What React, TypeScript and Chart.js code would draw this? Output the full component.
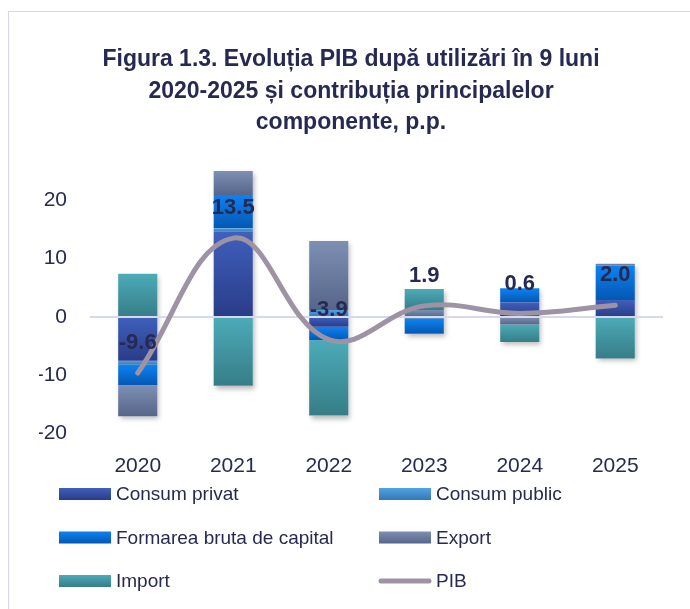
import React, { useEffect, useRef } from 'react';
import { Chart, registerables } from 'chart.js';

Chart.register(...registerables);

// ---- data ----
const categories = ['2020', '2021', '2022', '2023', '2024', '2025'];
const consumPrivat = [-7.5, 14.6, -1.7, 0, 2.5, 2.9];
const consumPublic = [-0.7, 0.6, 1.2, -0.3, 0, 0];
const formareaBruta = [-3.5, 5.7, -2.3, -2.6, 2.4, 5.9];
const exportValues = [-5.3, 4.4, 11.8, 1.2, -1.3, 0.3];
const importValues = [7.4, -11.8, -12.9, 3.6, -3.0, -7.1];
const pibValues = [-9.6, 13.5, -3.9, 1.9, 0.6, 2.0];
const yTickValues = [-20, -10, 0, 10, 20];
const seriesNames = ['Consum privat', 'Consum public', 'Formarea bruta de capital', 'Export', 'Import', 'PIB'];
const titleLines = [
  'Figura 1.3. Evoluția PIB după utilizări în 9 luni',
  '2020-2025 și contribuția principalelor',
  'componente, p.p.',
];

// ---- styles ----
const FONT = "'Liberation Sans', Arial, sans-serif";
const TEXT = '#262a52';
const barColors = [
  { top: '#3f60bc', bottom: '#2a3c88' },
  { top: '#52a3e2', bottom: '#3477b6' },
  { top: '#0d82f2', bottom: '#0557b2' },
  { top: '#7d8fb2', bottom: '#56668a' },
  { top: '#4cabb8', bottom: '#367d87' },
];
const PIB_COLOR = '#9e92a5';
const ZERO_LINE = '#d6d9ee';

const barSeries = [consumPrivat, consumPublic, formareaBruta, exportValues, importValues];

const gradientPlugin = {
  id: 'barGradients',
  beforeDatasetsDraw(chart: any) {
    const ctx = chart.ctx;
    const area = chart.chartArea;
    const n = categories.length;
    const tops = new Array(n).fill(Infinity);
    const bottoms = new Array(n).fill(-Infinity);
    const lefts = new Array(n).fill(0);
    const widths = new Array(n).fill(0);
    chart.data.datasets.forEach((ds: any, di: number) => {
      if (ds.type !== 'bar') return;
      const meta = chart.getDatasetMeta(di);
      const c = barColors[di - 1];
      meta.data.forEach((el: any, i: number) => {
        const top = Math.max(Math.min(el.y, el.base), area.top);
        const bottom = Math.min(Math.max(el.y, el.base), area.bottom);
        if (bottom - top > 0.01) {
          const g = ctx.createLinearGradient(0, top, 0, bottom);
          g.addColorStop(0, c.top);
          g.addColorStop(1, c.bottom);
          el.options.backgroundColor = g;
        }
        tops[i] = Math.min(tops[i], top);
        bottoms[i] = Math.max(bottoms[i], bottom);
        lefts[i] = el.x - el.width / 2;
        widths[i] = el.width;
      });
    });
    ctx.save();
    ctx.shadowColor = 'rgba(0,0,0,0.28)';
    ctx.shadowBlur = 5;
    ctx.shadowOffsetX = 2;
    ctx.shadowOffsetY = 3;
    ctx.fillStyle = '#ffffff';
    for (let i = 0; i < n; i++) {
      if (bottoms[i] > tops[i]) ctx.fillRect(lefts[i], tops[i], widths[i], bottoms[i] - tops[i]);
    }
    ctx.restore();
  },
  beforeDatasetDraw(chart: any, args: any) {
    if (chart.data.datasets[args.index].type !== 'line') return;
    const ctx = chart.ctx;
    const area = chart.chartArea;
    const y0 = chart.scales.y.getPixelForValue(0);
    ctx.save();
    ctx.strokeStyle = ZERO_LINE;
    ctx.lineWidth = 2;
    ctx.beginPath();
    ctx.moveTo(area.left, y0);
    ctx.lineTo(area.right, y0);
    ctx.stroke();
    ctx.restore();
  },
};

const labelPlugin = {
  id: 'pibLabels',
  afterDatasetsDraw(chart: any) {
    const ctx = chart.ctx;
    const di = chart.data.datasets.findIndex((d: any) => d.type === 'line');
    const meta = chart.getDatasetMeta(di);
    ctx.save();
    ctx.font = `bold 22px ${FONT}`;
    ctx.fillStyle = TEXT;
    ctx.textAlign = 'center';
    ctx.textBaseline = 'middle';
    meta.data.forEach((pt: any, i: number) => {
      ctx.fillText(pibValues[i].toFixed(1), pt.x, pt.y - 30);
    });
    ctx.restore();
  },
};

const legendPlugin = {
  id: 'gridLegend',
  afterDraw(chart: any) {
    const ctx = chart.ctx;
    const colX = [59, 379];
    const rowY = [494, 537.5, 581];
    const boxW = 52;
    const boxH = 12;
    ctx.save();
    ctx.font = `19px ${FONT}`;
    ctx.textBaseline = 'middle';
    ctx.textAlign = 'left';
    seriesNames.forEach((name, i) => {
      const x = colX[i % 2];
      const y = rowY[Math.floor(i / 2)];
      if (i < barColors.length) {
        const g = ctx.createLinearGradient(0, y - boxH / 2, 0, y + boxH / 2);
        g.addColorStop(0, barColors[i].top);
        g.addColorStop(1, barColors[i].bottom);
        ctx.fillStyle = g;
        ctx.fillRect(x, y - boxH / 2, boxW, boxH);
      } else {
        ctx.strokeStyle = PIB_COLOR;
        ctx.lineWidth = 5;
        ctx.lineCap = 'round';
        ctx.beginPath();
        ctx.moveTo(x + 2, y);
        ctx.lineTo(x + boxW - 2, y);
        ctx.stroke();
      }
      ctx.fillStyle = TEXT;
      ctx.fillText(name, x + 57, y + 1);
    });
    ctx.restore();
  },
};

export default function App() {
  const ref = useRef<HTMLCanvasElement | null>(null);

  useEffect(() => {
    if (!ref.current) return;
    const barDatasets = barSeries.map((vals, k) => ({
      type: 'bar' as const,
      label: seriesNames[k],
      data: vals,
      stack: 'components',
      order: 1,
      borderWidth: 0,
      barPercentage: 0.41,
      categoryPercentage: 1,
      backgroundColor: () => barColors[k].bottom,
    }));
    const chart = new Chart(ref.current, {
      data: {
        labels: categories,
        datasets: [
          {
            type: 'line' as const,
            label: seriesNames[5],
            data: pibValues,
            borderColor: PIB_COLOR,
            borderWidth: 5,
            borderCapStyle: 'round',
            tension: 0.4,
            pointRadius: 0,
            pointHoverRadius: 0,
            fill: false,
            order: 0,
          },
          ...barDatasets,
        ] as any,
      },
      options: {
        responsive: false,
        animation: false,
        devicePixelRatio: 1,
        layout: { padding: { left: 39, right: 27, top: 44, bottom: 135.3 } },
        plugins: {
          legend: { display: false },
          tooltip: { enabled: false },
          title: {
            display: true,
            text: titleLines,
            color: TEXT,
            font: { family: FONT, size: 23, weight: 'bold', lineHeight: '31.5px' },
            padding: { top: 0.25, bottom: 32.25 },
          },
        },
        scales: {
          x: {
            stacked: true,
            grid: { display: false, drawTicks: false },
            border: { display: false },
            ticks: { color: TEXT, font: { family: FONT, size: 21 }, padding: 20 },
            afterFit: (s: any) => { s.height = 40; },
          },
          y: {
            stacked: true,
            min: -20,
            max: 25,
            grid: { display: false, drawTicks: false },
            border: { display: false },
            ticks: { color: TEXT, font: { family: FONT, size: 21 }, padding: 23 },
            afterBuildTicks: (s: any) => { s.ticks = yTickValues.map((v) => ({ value: v })); },
            afterFit: (s: any) => { s.width = 51; },
          },
        },
      },
      plugins: [gradientPlugin, labelPlugin, legendPlugin],
    });
    return () => chart.destroy();
  }, []);

  return (
    <div style={{ position: 'absolute', left: 0, top: 0, width: 690, height: 609, background: '#fff', overflow: 'hidden' }}>
      <div style={{ position: 'absolute', left: 8, top: 11, width: 800, height: 800, borderLeft: '1px solid #d3d6ee', borderTop: '1px solid #d3d6ee' }} />
      <canvas ref={ref} width={690} height={609} style={{ position: 'absolute', left: 0, top: 0, width: 690, height: 609 }} />
    </div>
  );
}
